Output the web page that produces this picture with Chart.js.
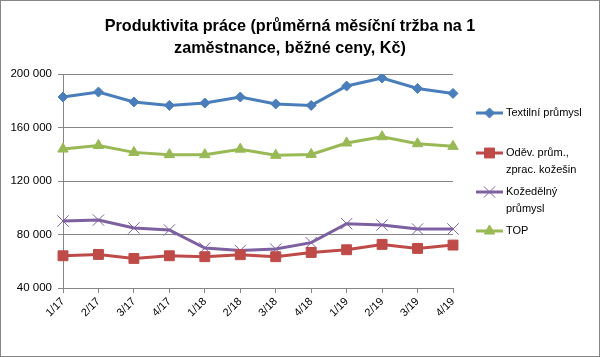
<!DOCTYPE html>
<html>
<head>
<meta charset="utf-8">
<script src="https://cdn.jsdelivr.net/npm/chart.js@4"></script>
<style>
html,body{margin:0;padding:0;background:#fff;}
#wrap{width:600px;height:357px;position:relative;}
canvas{display:block;}
</style>
</head>
<body>
<div id="wrap"><canvas id="c" width="600" height="357"></canvas></div>
<script>
const titleLines = ["Produktivita práce (průměrná měsíční tržba na 1", "zaměstnance, běžné ceny, Kč)"];
const categories = ["1/17","2/17","3/17","4/17","1/18","2/18","3/18","4/18","1/19","2/19","3/19","4/19"];
const textil = [182800,186500,179100,176500,178300,182800,177600,176500,191000,197000,189200,185500];
const odev   = [64100,65100,62100,64100,63400,64900,63400,66600,68600,72600,69600,72100];
const kozedelny = [90100,90800,84900,83400,69900,68100,69100,73900,88100,87100,84100,84100];
const top_   = [143900,146600,141400,139700,139700,143800,139200,139900,148400,153100,147900,145900];
const seriesLabels = [["Textilní průmysl"],["Oděv. prům.,","zprac. kožešin"],["Kožedělný","průmysl"],["TOP"]];
const yMin = 40000, yMax = 200000, yStep = 40000;

const FONT = "'Liberation Sans', Arial, sans-serif";
const GRID = "#868686";

function fmt(v){ return String(v).replace(/\B(?=(\d{3})+(?!\d))/g, " "); }

const frame = {
  id: 'frame',
  afterDraw(chart){
    const ctx = chart.ctx;
    ctx.save();
    // border
    ctx.strokeStyle = GRID; ctx.lineWidth = 1;
    ctx.strokeRect(0.5, 0.5, chart.width - 1, chart.height - 1);
    // title
    ctx.fillStyle = "#000";
    ctx.font = "bold 16.2px " + FONT;
    ctx.textAlign = "center"; ctx.textBaseline = "middle";
    ctx.fillText(titleLines[0], 290, 27);
    ctx.fillText(titleLines[1], 290, 49);
    // legend
    const ca = chart.chartArea;
    const lx = ca.right + 23;
    const ys = [113, 153, 192, 231];
    chart.data.datasets.forEach((ds, i) => {
      const y = ys[i];
      ctx.strokeStyle = ds.borderColor; ctx.lineWidth = 3;
      ctx.beginPath(); ctx.moveTo(lx, y); ctx.lineTo(lx + 27, y); ctx.stroke();
      ctx.fillStyle = ds.pointBackgroundColor;
      ctx.strokeStyle = ds.pointBorderColor;
      ctx.lineWidth = ds.pointBorderWidth;
      Chart.helpers.drawPoint(ctx, {
        pointStyle: ds.pointStyle, radius: ds.pointRadius, borderWidth: ds.pointBorderWidth, rotation: 0
      }, lx + 13.5, y);
      ctx.fillStyle = "#000";
      ctx.font = "11px " + FONT;
      ctx.textAlign = "left"; ctx.textBaseline = "middle";
      seriesLabels[i].forEach((t, j) => ctx.fillText(t, lx + 30, y + j * 16.6));
    });
    ctx.restore();
  }
};

function ds(label, data, color, style, r, bw){
  return {
    label, data, borderColor: color, backgroundColor: color,
    pointBackgroundColor: color, pointBorderColor: color,
    borderWidth: 3, pointStyle: style, pointRadius: r, pointHoverRadius: r,
    pointBorderWidth: bw, tension: 0
  };
}

const chart = new Chart(document.getElementById('c'), {
  type: 'line',
  data: {
    labels: categories,
    datasets: [
      ds(seriesLabels[0].join(" "), textil, "#4A7EBB", "rectRot", 5, 1),
      ds(seriesLabels[1].join(" "), odev, "#BE4B48", "rect", 7, 1),
      ds(seriesLabels[2].join(" "), kozedelny, "#7D60A0", "crossRot", 8, 1),
      ds(seriesLabels[3].join(" "), top_, "#98B954", "triangle", 6, 1)
    ]
  },
  options: {
    responsive: false,
    animation: false,
    layout: { padding: { top: 74, right: 147, left: 0, bottom: 0 } },
    plugins: { legend: { display: false }, title: { display: false }, tooltip: { enabled: false } },
    scales: {
      x: {
        offset: false,
        grid: { display: true, drawOnChartArea: false, drawTicks: true, tickLength: 5, color: GRID },
        border: { color: GRID, width: 1 },
        ticks: { color: "#000", font: { family: FONT, size: 11 }, minRotation: 45, maxRotation: 45, padding: 2, autoSkip: false },
        afterFit(s){ s.height = 69; }
      },
      y: {
        min: yMin, max: yMax,
        grid: { color: GRID, tickLength: 5 },
        border: { color: GRID, width: 1 },
        ticks: { stepSize: yStep, color: "#000", font: { family: FONT, size: 11.5 }, padding: 6, callback: v => fmt(v) },
        afterFit(s){ s.width = 63; }
      }
    }
  },
  plugins: [frame]
});
</script>
</body>
</html>
